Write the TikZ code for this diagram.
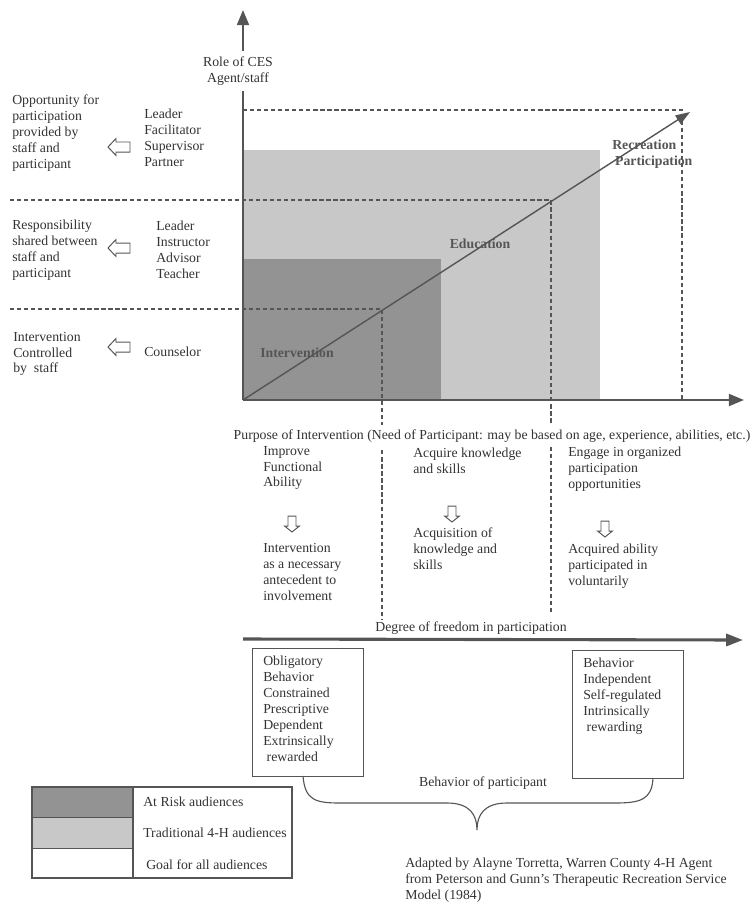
\documentclass[tikz,border=0pt]{standalone}
\usepackage{fontspec}
\setmainfont{Liberation Serif}
\usetikzlibrary{arrows.meta}
\definecolor{inkgray}{HTML}{333333}
\definecolor{axisgray}{HTML}{555555}
\definecolor{darkzone}{HTML}{939393}
\definecolor{lightzone}{HTML}{C8C8C8}
% hollow block arrow: at, angle, length, head width, shaft width, head length
\newcommand\blockarrow[6]{%
  \draw[axisgray,line width=0.7pt,line join=miter,shift={(#1)},rotate=#2]
    ({#3/2},0) -- ({#3/2-#6},{-#4/2}) -- ({#3/2-#6},{-#5/2}) -- ({-#3/2},{-#5/2})
    -- ({-#3/2},{#5/2}) -- ({#3/2-#6},{#5/2}) -- ({#3/2-#6},{#4/2}) -- cycle;}
\begin{document}
\begin{tikzpicture}[x=0.025cm,y=-0.025cm,
    txt/.style={font=\fontsize{9.8}{11.3}\selectfont,text=inkgray,align=left,anchor=west,inner sep=0pt},
    zonelabel/.style={txt,text=axisgray,font=\fontsize{9.8}{11.3}\selectfont\bfseries},
    dashline/.style={axisgray,line width=0.9pt,dash pattern=on 3pt off 2pt},
    axis/.style={axisgray,line width=1.6pt,-{Triangle[length=0.38cm,width=0.3cm]}},
    framebox/.style={draw=axisgray,line width=0.7pt,inner sep=0pt,anchor=north west,minimum width=2.775cm,minimum height=3.2cm}]
\useasboundingbox (0,0) rectangle (755,904);

\fill[lightzone] (243,150) rectangle (600,400);
\fill[darkzone] (243,259) rectangle (441,400);

\coordinate (O) at (243,400);
\coordinate (p1) at (382,309);
\coordinate (p2) at (551,200);
\coordinate (p3) at (682,110);

\draw[dashline] (10,309) -- (p1) -- (382,620);
\draw[dashline] (10,200) -- (p2) -- (551,615);
\draw[dashline] (243,110) -- (p3) -- (682,400);

\draw[axis] (O) -- (243,10);
\draw[axis] (O) -- (744,400);
\draw[axisgray,line width=1pt,-{Triangle[length=0.36cm,width=0.25cm]}] (O) -- (690,112);

\node[txt,anchor=center,align=center,fill=white,inner ysep=0.15cm] (role) at (238,71) {Role of CES\\Agent/staff};
\node[zonelabel,anchor=center] (interv) at (297,353) {Intervention};
\node[zonelabel,anchor=center] (educ) at (480,244) {Education};
\node[zonelabel] (recr) at (612,154) {Recreation\\\hspace*{0.07cm}Participation};

\node[txt] (opp) at (12,133) {Opportunity for\\participation\\provided by\\staff and\\participant};
\coordinate (a1) at (119,147);
\blockarrow{a1}{180}{22}{17}{10}{8}
\node[txt] (lead1) at (144,138) {Leader\\Facilitator\\Supervisor\\Partner};
\node[txt] (resp) at (12,250) {Responsibility\\shared between\\staff and\\participant};
\coordinate (a2) at (119,248);
\blockarrow{a2}{180}{22}{17}{10}{8}
\node[txt] (lead2) at (156,250) {Leader\\Instructor\\Advisor\\Teacher};
\node[txt] (ctrl) at (13,354) {Intervention\\Controlled\\by\ \ staff};
\coordinate (a3) at (119,347);
\blockarrow{a3}{180}{22}{17}{10}{8}
\node[txt] (couns) at (144,352) {Counselor};

\node[txt,anchor=center,fill=white,inner ysep=0.12cm] (purpose) at (492,436) {Purpose of Intervention (Need of Participant: may be based on age, experience, abilities, etc.)};

\node[txt] (c1top) at (263,468) {Improve\\Functional\\Ability};
\coordinate (c1arr) at (292,524);
\blockarrow{c1arr}{270}{16}{15}{8}{6}
\node[txt] (c1bot) at (263,572) {Intervention\\as a necessary\\antecedent to\\involvement};
\node[txt] (c2top) at (413,461) {Acquire knowledge\\and skills};
\coordinate (c2arr) at (452,514);
\blockarrow{c2arr}{270}{16}{15}{8}{6}
\node[txt] (c2bot) at (413,549) {Acquisition of\\knowledge and\\skills};
\node[txt] (c3top) at (568,469) {Engage in organized\\participation\\opportunities};
\coordinate (c3arr) at (605,529);
\blockarrow{c3arr}{270}{16}{15}{8}{6}
\node[txt] (c3bot) at (568,566) {Acquired ability\\participated in\\voluntarily};

\node[txt,anchor=center] (degree) at (471,628) {Degree of freedom in participation};
\draw[axisgray,line width=2.2pt,-{Triangle[length=0.42cm,width=0.3cm]}] (243,639) -- (743,640);

\node[framebox] (lbox) at (252,648) {};
\node[txt,anchor=north west] (ltext) at (263,656) {Obligatory\\Behavior\\Constrained\\Prescriptive\\Dependent\\Extrinsically\\\ rewarded};
\node[framebox] (rbox) at (572,650) {};
\node[txt,anchor=north west] (rtext) at (583,658) {Behavior\\Independent\\Self-regulated\\Intrinsically\\\ rewarding};

\coordinate (brl) at (303,776);
\coordinate (brr) at (653,778);
\draw[axisgray,line width=0.8pt] (brl) .. controls (305,800) and (315,803) .. (340,803) -- (447,803) .. controls (470,803) and (477,815) .. (477,830) .. controls (477,815) and (484,803) .. (507,803) -- (615,803) .. controls (640,803) and (652,800) .. (brr);
\node[txt,anchor=center] (behav) at (483,783) {Behavior of participant};

\fill[darkzone] (32,787) rectangle (133,817);
\fill[lightzone] (32,817) rectangle (133,848);
\draw[axisgray,line width=0.7pt] (32,817) -- (133,817) (32,848) -- (133,848);
\draw[axisgray,line width=0.8pt] (32,787) rectangle (292,878) (133,787) -- (133,878);
\node[txt] (risk) at (143,802) {At Risk audiences};
\node[txt] (trad) at (143,833) {Traditional 4-H audiences};
\node[txt] (goal) at (146,865) {Goal for all audiences};

\node[txt] (credit) at (405,880) {Adapted by Alayne Torretta, Warren County 4-H Agent\\from Peterson and Gunn’s Therapeutic Recreation Service\\Model (1984)};
\end{tikzpicture}
\end{document}
